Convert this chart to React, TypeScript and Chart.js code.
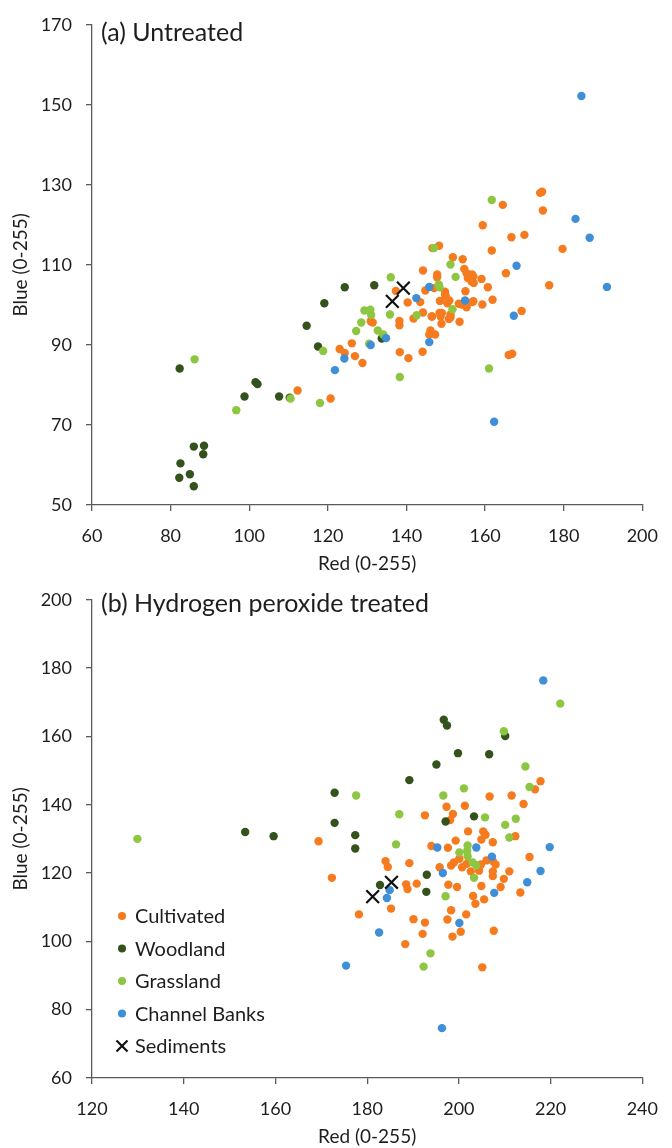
import React, { useEffect, useRef } from 'react';
import { Chart, registerables } from 'chart.js';

Chart.register(...registerables);

type Pt = [number, number];

// Series names and colours
const seriesNames = ['Cultivated', 'Woodland', 'Grassland', 'Channel Banks', 'Sediments'];
const seriesColors = ['#F67B1E', '#33521C', '#8DC641', '#3E8ED8', '#111111'];

// (a) Untreated: [Red, Blue]
const cultivatedA: Pt[] = [
  [112.3, 78.6], [120.7, 76.6], [123.0, 89.0], [124.3, 88.0], [126.9, 87.2], [128.8, 85.5], [126.1, 90.4],
  [130.9, 95.9], [131.4, 95.6], [138.3, 88.2], [140.5, 86.7], [138.2, 96.0], [138.2, 94.9], [137.3, 103.5],
  [140.3, 100.6], [143.5, 100.7], [141.8, 96.6], [144.2, 98.1], [144.2, 108.6], [144.8, 103.6], [146.1, 93.6],
  [145.8, 92.6], [147.3, 92.6], [144.1, 88.3], [146.5, 97.1], [148.4, 98.0], [148.7, 97.1], [148.9, 95.3],
  [148.5, 101.0], [149.8, 102.6], [150.0, 102.2], [147.8, 107.6], [147.8, 106.9], [146.6, 114.2], [148.3, 114.8],
  [151.8, 111.9], [154.3, 111.4], [154.7, 109.0], [155.3, 107.9], [157.0, 107.1], [156.5, 105.9], [155.6, 106.7],
  [159.1, 106.5], [160.7, 104.4], [159.4, 119.9], [161.7, 113.6], [150.8, 96.5], [151.2, 97.6], [153.5, 95.8],
  [153.3, 100.3], [155.3, 99.4], [156.7, 100.7], [159.3, 100.1], [174.0, 128.0], [174.5, 128.3], [174.7, 123.6],
  [164.5, 125.0], [170.0, 117.5], [166.7, 116.9], [179.7, 114.0], [165.3, 107.9], [176.3, 104.9], [157.0, 100.9],
  [161.9, 101.3], [169.3, 98.5], [166.0, 87.5], [166.9, 87.8], [147.0, 104.2], [149.8, 103.3], [155.0, 103.4],
  [150.9, 101.1], [150.4, 100.4], [154.1, 100.1], [146.4, 97.1], [149.0, 98.0], [151.2, 96.9], [146.2, 92.9],
  [157.1, 105.5], [156.7, 107.6],
];
const woodlandA: Pt[] = [
  [82.3, 84.1], [98.8, 77.1], [101.6, 80.7], [102.1, 80.2], [107.6, 77.1], [110.3, 76.8], [117.5, 89.6],
  [85.9, 64.6], [88.5, 64.8], [88.3, 62.7], [82.5, 60.4], [84.9, 57.7], [82.2, 56.8], [85.9, 54.7],
  [114.6, 94.8], [119.1, 100.4], [124.3, 104.4], [131.8, 104.9], [133.7, 91.6],
];
const grasslandA: Pt[] = [
  [86.1, 86.4], [96.7, 73.7], [110.5, 76.6], [118.8, 88.5], [118.0, 75.5], [127.2, 93.5], [128.5, 95.6],
  [129.3, 98.6], [130.8, 98.8], [131.0, 97.5], [132.7, 93.6], [134.1, 92.6], [130.5, 90.3], [138.3, 82.0],
  [135.8, 97.6], [136.0, 106.9], [142.6, 97.4], [148.2, 105.1], [148.4, 104.4], [147.0, 114.2], [151.2, 110.1],
  [152.5, 107.0], [161.7, 126.2], [161.0, 84.1], [151.7, 98.9],
];
const channelA: Pt[] = [
  [121.8, 83.7], [124.2, 86.6], [134.8, 91.7], [130.9, 90.0], [142.5, 101.7], [145.8, 104.5], [145.8, 90.7],
  [154.9, 101.1], [184.5, 152.2], [183.0, 121.5], [186.6, 116.8], [168.0, 109.8], [191.0, 104.5], [167.3, 97.3],
  [162.3, 70.8],
];
const sedimentsA: Pt[] = [[136.4, 100.9], [139.2, 104.2]];

// (b) Hydrogen peroxide treated: [Red, Blue]
const cultivatedB: Pt[] = [
  [217.8, 146.9], [206.7, 142.4], [211.5, 142.7], [197.3, 139.4], [201.3, 139.7], [192.6, 136.9], [198.7, 137.3],
  [198.1, 135.5], [169.4, 129.3], [202.0, 132.2], [205.3, 132.2], [205.8, 131.2], [204.9, 129.8], [207.4, 129.0],
  [199.3, 129.5], [194.0, 127.9], [197.6, 127.4], [200.1, 124.2], [198.9, 123.1], [198.3, 122.2], [200.7, 121.7],
  [201.7, 122.7], [204.8, 122.5], [206.0, 123.7], [207.4, 123.5], [208.0, 122.5], [202.6, 120.5], [204.4, 120.7],
  [207.4, 119.1], [209.8, 118.3], [209.1, 115.9], [211.0, 120.5], [184.0, 123.5], [184.5, 121.8], [189.2, 122.9],
  [188.5, 116.7], [188.8, 115.3], [190.8, 116.9], [195.8, 121.7], [197.7, 116.6], [199.6, 115.9], [203.1, 113.3],
  [203.6, 111.0], [205.5, 112.3], [204.9, 116.2], [185.2, 109.6], [178.2, 107.9], [172.3, 118.6], [198.3, 109.1],
  [201.6, 107.9], [197.5, 106.4], [190.1, 106.5], [192.6, 105.5], [200.4, 102.8], [198.6, 101.4], [192.1, 102.2],
  [188.3, 99.2], [207.6, 103.1], [205.1, 92.4], [216.6, 144.5], [214.1, 140.2], [212.3, 130.8], [215.4, 124.7],
  [207.4, 120.5], [213.4, 114.3],
];
const woodlandB: Pt[] = [
  [196.7, 164.9], [197.4, 163.2], [210.1, 160.1], [199.8, 155.1], [206.6, 154.8], [195.1, 151.8], [189.2, 147.2],
  [172.9, 143.5], [197.1, 135.1], [203.3, 136.6], [172.9, 134.7], [177.4, 131.1], [177.4, 127.2], [182.8, 116.5],
  [193.0, 119.5], [192.9, 114.5], [153.4, 132.0], [159.6, 130.8],
];
const grasslandB: Pt[] = [
  [222.1, 169.6], [209.8, 161.5], [214.5, 151.2], [177.6, 142.7], [201.1, 144.8], [196.6, 142.7], [187.0, 137.2],
  [205.7, 136.3], [210.1, 134.1], [211.0, 130.4], [186.3, 128.4], [201.9, 128.1], [201.8, 126.4], [200.1, 126.0],
  [201.9, 124.9], [203.0, 123.1], [203.8, 122.3], [203.3, 118.6], [197.1, 113.2], [193.8, 96.5], [192.3, 92.6],
  [215.4, 145.2], [212.4, 135.9], [129.9, 130.0],
];
const channelB: Pt[] = [
  [218.4, 176.4], [203.8, 127.5], [195.3, 127.5], [207.2, 124.8], [184.9, 115.0], [184.3, 112.7], [196.5, 120.0],
  [207.7, 114.2], [200.1, 105.4], [182.6, 102.6], [175.4, 92.9], [219.8, 127.6], [217.8, 120.6], [214.9, 117.3],
  [196.3, 74.6],
];
const sedimentsB: Pt[] = [[185.3, 117.3], [181.2, 113.1]];

// Axis ranges
const xRangeA = [60, 200];
const yRangeA = [50, 170];
const xRangeB = [120, 240];
const yRangeB = [60, 200];
const tickStep = 20;

const FONT = "Lato, 'Open Sans', sans-serif";
const TEXT = '#1e1e1e';
const AXIS = '#5a5a5a';

const panelPlugin = {
  id: 'panelText',
  afterDraw(chart: any, _args: any, o: any) {
    const { ctx, chartArea } = chart;
    ctx.save();
    ctx.fillStyle = TEXT;
    ctx.textBaseline = 'middle';
    ctx.textAlign = 'left';
    ctx.font = `${o.titleSize}px ${FONT}`;
    ctx.fillText(o.title, chartArea.left + o.titleDx, chartArea.top + o.titleDy);
    if (o.legend) {
      ctx.font = `${o.legendSize}px ${FONT}`;
      const ds = chart.data.datasets;
      const x0 = chartArea.left + 30;
      ds.forEach((d: any, i: number) => {
        const y = chartArea.bottom - o.legendBottom - (ds.length - 1 - i) * o.legendGap;
        if (d.pointStyle === 'crossRot') {
          ctx.strokeStyle = d.borderColor;
          ctx.lineWidth = 2.2;
          ctx.beginPath();
          ctx.moveTo(x0 - 5.5, y - 5.5);
          ctx.lineTo(x0 + 5.5, y + 5.5);
          ctx.moveTo(x0 - 5.5, y + 5.5);
          ctx.lineTo(x0 + 5.5, y - 5.5);
          ctx.stroke();
        } else {
          ctx.fillStyle = d.backgroundColor;
          ctx.beginPath();
          ctx.arc(x0, y, 4, 0, Math.PI * 2);
          ctx.fill();
        }
        ctx.fillStyle = TEXT;
        ctx.fillText(d.label, x0 + 13, y + 1);
      });
    }
    ctx.restore();
  },
};

function buildDatasets(series: Pt[][]) {
  return series.map((pts, i) => {
    const isSed = i === 4;
    return {
      label: seriesNames[i],
      data: pts.map(([x, y]) => ({ x, y })),
      backgroundColor: seriesColors[i],
      borderColor: seriesColors[i],
      pointStyle: isSed ? 'crossRot' : 'circle',
      pointRadius: isSed ? 9 : 4.2,
      borderWidth: isSed ? 2.2 : 0,
      pointBorderWidth: isSed ? 2.2 : 0,
      order: 4 - i,
    };
  });
}

function axisOptions(range: number[], titleText: string, isX: boolean) {
  return {
    type: 'linear',
    position: isX ? 'bottom' : 'left',
    min: range[0],
    max: range[1],
    ticks: { stepSize: tickStep, font: { size: 18, family: FONT }, color: TEXT, padding: 14 },
    grid: { display: true, drawOnChartArea: false, drawTicks: true, tickLength: 6, color: AXIS, lineWidth: 1.3 },
    border: { display: true, color: AXIS, width: 1.3 },
    title: {
      display: true,
      text: titleText,
      font: { size: 19, family: FONT },
      color: TEXT,
      padding: isX ? { top: 0, bottom: 0 } : { top: 9, bottom: 0 },
    },
    afterFit: (scale: any) => {
      if (isX) scale.height = 70;
      else scale.width = 92;
    },
  };
}

function makeConfig(series: Pt[][], xr: number[], yr: number[], title: string, titleDy: number, legend: boolean) {
  return {
    type: 'scatter',
    data: { datasets: buildDatasets(series) },
    plugins: [panelPlugin],
    options: {
      responsive: false,
      animation: false,
      devicePixelRatio: 1,
      layout: { padding: { left: 0, right: 20, top: 22, bottom: 0 } },
      scales: {
        x: axisOptions(xr, 'Red (0-255)', true),
        y: axisOptions(yr, 'Blue (0-255)', false),
      },
      plugins: {
        legend: { display: false },
        tooltip: { enabled: false },
        panelText: {
          title,
          titleDx: 9,
          titleDy,
          titleSize: 25,
          legend,
          legendSize: 20,
          legendBottom: 32,
          legendGap: 32.5,
        },
      },
    },
  };
}

function ScatterPanel(props: { series: Pt[][]; xr: number[]; yr: number[]; title: string; titleDy: number; legend: boolean; height: number }) {
  const ref = useRef<HTMLCanvasElement>(null);
  useEffect(() => {
    if (!ref.current) return;
    const chart = new Chart(ref.current, makeConfig(props.series, props.xr, props.yr, props.title, props.titleDy, props.legend) as any);
    return () => chart.destroy();
  }, []);
  return <canvas ref={ref} width={672} height={props.height} style={{ display: 'block', width: 672, height: props.height }} />;
}

export default function App() {
  return (
    <div style={{ position: 'absolute', left: 0, top: 0, width: 672, height: 1148, background: '#fff' }}>
      <ScatterPanel
        series={[cultivatedA, woodlandA, grasslandA, channelA, sedimentsA]}
        xr={xRangeA}
        yr={yRangeA}
        title="(a) Untreated"
        titleDy={8}
        legend={false}
        height={575}
      />
      <ScatterPanel
        series={[cultivatedB, woodlandB, grasslandB, channelB, sedimentsB]}
        xr={xRangeB}
        yr={yRangeB}
        title="(b) Hydrogen peroxide treated"
        titleDy={4}
        legend={true}
        height={573}
      />
    </div>
  );
}
